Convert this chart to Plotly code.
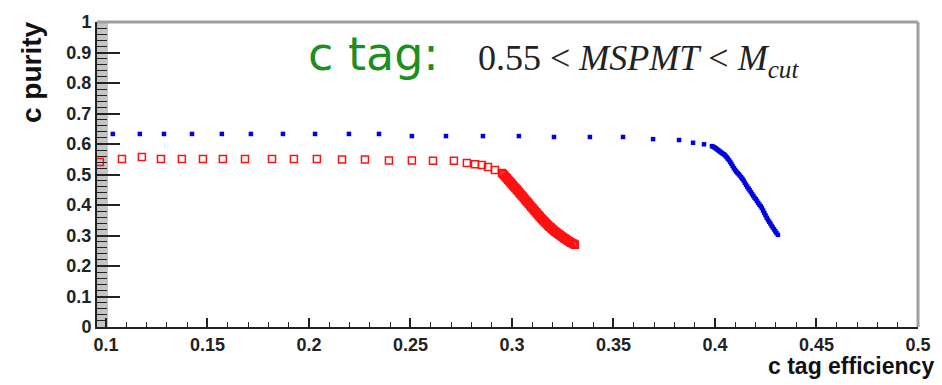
import plotly.graph_objects as go

# ---- data ----
red_eff = [0.0970, 0.1079, 0.1177, 0.1271, 0.1374, 0.1478, 0.1576, 0.1685, 0.1818, 0.1926,
           0.2039, 0.2163, 0.2276, 0.2394, 0.2507, 0.2611, 0.2714, 0.2778, 0.2818, 0.2852,
           0.2882, 0.2916, 0.2951,
           0.2957, 0.2963, 0.2969, 0.2975, 0.2981, 0.2987, 0.2993, 0.2999, 0.3005, 0.3011,
           0.3017, 0.3023, 0.3029, 0.3035, 0.3041, 0.3047, 0.3053, 0.3059, 0.3065, 0.3071,
           0.3077, 0.3083, 0.3089, 0.3095, 0.3101, 0.3107, 0.3113, 0.3119, 0.3125, 0.3131,
           0.3137, 0.3143, 0.3149, 0.3155, 0.3161, 0.3167, 0.3173, 0.3179, 0.3185, 0.3191,
           0.3197, 0.3203, 0.3209, 0.3215, 0.3221, 0.3227, 0.3233, 0.3239, 0.3245, 0.3251,
           0.3257, 0.3263, 0.3269, 0.3275, 0.3281, 0.3287, 0.3293, 0.3299, 0.3305, 0.3310]
red_pur = [0.541, 0.551, 0.557, 0.551, 0.551, 0.551, 0.551, 0.551, 0.551, 0.551,
           0.551, 0.549, 0.549, 0.546, 0.546, 0.545, 0.545, 0.538, 0.534, 0.531,
           0.525, 0.515, 0.505,
           0.501, 0.497, 0.492, 0.488, 0.483, 0.479, 0.474, 0.469, 0.465, 0.460,
           0.456, 0.451, 0.447, 0.442, 0.437, 0.432, 0.428, 0.423, 0.418, 0.413,
           0.409, 0.404, 0.399, 0.394, 0.390, 0.385, 0.380, 0.376, 0.371, 0.366,
           0.362, 0.357, 0.353, 0.349, 0.345, 0.341, 0.337, 0.333, 0.329, 0.326,
           0.322, 0.319, 0.315, 0.312, 0.309, 0.306, 0.303, 0.300, 0.297, 0.294,
           0.291, 0.289, 0.286, 0.283, 0.281, 0.278, 0.276, 0.274, 0.272, 0.270]

blue_eff = [0.1034, 0.1167, 0.1286, 0.1424, 0.1571, 0.1714, 0.1872, 0.2030, 0.2197, 0.2345,
            0.2507, 0.2675, 0.2857, 0.3034, 0.3207, 0.3384, 0.3547, 0.3695, 0.3823, 0.3892,
            0.3946,
            0.3985, 0.3991, 0.3997, 0.4003, 0.4009, 0.4015, 0.4021, 0.4027, 0.4033, 0.4039,
            0.4045, 0.4051, 0.4057, 0.4063, 0.4069, 0.4075, 0.4081, 0.4087, 0.4093, 0.4099,
            0.4105, 0.4111, 0.4117, 0.4123, 0.4129, 0.4135, 0.4141, 0.4147, 0.4153, 0.4159,
            0.4165, 0.4171, 0.4177, 0.4183, 0.4189, 0.4195, 0.4201, 0.4207, 0.4213, 0.4219,
            0.4225, 0.4231, 0.4237, 0.4243, 0.4249, 0.4255, 0.4261, 0.4267, 0.4273, 0.4279,
            0.4285, 0.4291, 0.4297, 0.4303, 0.4310]
blue_pur = [0.633, 0.633, 0.633, 0.633, 0.633, 0.633, 0.633, 0.633, 0.633, 0.633,
            0.626, 0.626, 0.626, 0.626, 0.623, 0.623, 0.623, 0.616, 0.613, 0.604,
            0.599,
            0.593, 0.591, 0.589, 0.586, 0.583, 0.580, 0.577, 0.574, 0.571, 0.568,
            0.566, 0.562, 0.557, 0.552, 0.547, 0.541, 0.535, 0.528, 0.521, 0.515,
            0.510, 0.505, 0.501, 0.496, 0.491, 0.486, 0.480, 0.473, 0.466, 0.460,
            0.454, 0.448, 0.442, 0.436, 0.430, 0.424, 0.419, 0.413, 0.407, 0.401,
            0.396, 0.390, 0.382, 0.374, 0.366, 0.358, 0.351, 0.345, 0.339, 0.332,
            0.326, 0.320, 0.314, 0.308, 0.302]

x_ticks = [0.1, 0.15, 0.2, 0.25, 0.3, 0.35, 0.4, 0.45, 0.5]
x_tick_labels = ["0.1", "0.15", "0.2", "0.25", "0.3", "0.35", "0.4", "0.45", "0.5"]
y_ticks = [0, 0.1, 0.2, 0.3, 0.4, 0.5, 0.6, 0.7, 0.8, 0.9, 1]
y_tick_labels = ["0", "0.1", "0.2", "0.3", "0.4", "0.5", "0.6", "0.7", "0.8", "0.9", "1"]

W, H = 942, 385
L, R, T, B = 97, 24, 22, 58
PW, PH = W - L - R, H - T - B


def px(xp):
    return (xp - L) / PW


def py(yp):
    return (H - B - yp) / PH


fig = go.Figure()
fig.add_trace(go.Scatter(x=red_eff, y=red_pur, mode="markers",
                         marker=dict(symbol="square-open", size=7, color="#ff1010",
                                     line=dict(width=1.5, color="#ff1010")),
                         showlegend=False))
fig.add_trace(go.Scatter(x=blue_eff, y=blue_pur, mode="markers",
                         marker=dict(symbol="square", size=4.5, color="#0000e0",
                                     line=dict(width=0)),
                         showlegend=False))

tickfont = dict(family="Liberation Sans, Arial", size=18, color="#222222")

fig.update_layout(
    width=W, height=H,
    margin=dict(l=L, r=R, t=T, b=B),
    paper_bgcolor="white", plot_bgcolor="white",
    xaxis=dict(range=[0.0956, 0.5], tickvals=x_ticks,
               ticktext=["<b>%s</b>" % t for t in x_tick_labels],
               ticks="inside", ticklen=9, tickwidth=1.5, tickcolor="#222",
               showgrid=False, zeroline=False, showline=True, linecolor="#222", linewidth=2,
               minor=dict(dtick=0.01, tick0=0.1, ticks="inside", ticklen=5, tickwidth=1.3,
                          tickcolor="#222", showgrid=False),
               tickfont=tickfont, tickangle=0),
    yaxis=dict(range=[0, 1], tickvals=y_ticks,
               ticktext=["<b>%s</b>" % t for t in y_tick_labels],
               ticks="inside", ticklen=23, tickwidth=1.5, tickcolor="#222",
               showgrid=False, zeroline=False, showline=True, linecolor="#222", linewidth=2,
               minor=dict(dtick=0.02, tick0=0, ticks="inside", ticklen=10, tickwidth=1.3,
                          tickcolor="#222", showgrid=False),
               tickfont=tickfont),
    shapes=[
        dict(type="rect", xref="paper", yref="paper", x0=0, x1=11 / PW, y0=0, y1=1,
             fillcolor="#c4c4c4", line=dict(width=0), layer="below"),
        dict(type="line", xref="paper", yref="paper", x0=0, x1=1, y0=1, y1=1,
             line=dict(color="#a0a0a0", width=3)),
        dict(type="line", xref="paper", yref="paper", x0=1, x1=1, y0=0, y1=1,
             line=dict(color="#a0a0a0", width=3)),
    ],
    annotations=[
        dict(text="c tag:", xref="paper", yref="paper", x=px(306), y=py(54),
             xanchor="left", yanchor="middle", showarrow=False,
             font=dict(family="DejaVu Sans", size=46, color="#1e8f1e")),
        dict(text="0.55 &lt; <i>MSPMT</i> &lt; <i>M</i><sub><i>cut</i></sub>",
             xref="paper", yref="paper", x=px(476), y=py(60),
             xanchor="left", yanchor="middle", showarrow=False,
             font=dict(family="Liberation Serif, Times New Roman", size=36, color="#222")),
        dict(text="<b>c purity</b>", xref="paper", yref="paper", x=px(32), y=py(72),
             xanchor="center", yanchor="middle", showarrow=False, textangle=-90,
             font=dict(family="Liberation Sans, Arial", size=28, color="#111")),
        dict(text="<b>c tag efficiency</b>", xref="paper", yref="paper", x=px(936), y=py(366),
             xanchor="right", yanchor="middle", showarrow=False,
             font=dict(family="Liberation Sans, Arial", size=23, color="#111")),
    ],
)

fig.write_html("out.html")
